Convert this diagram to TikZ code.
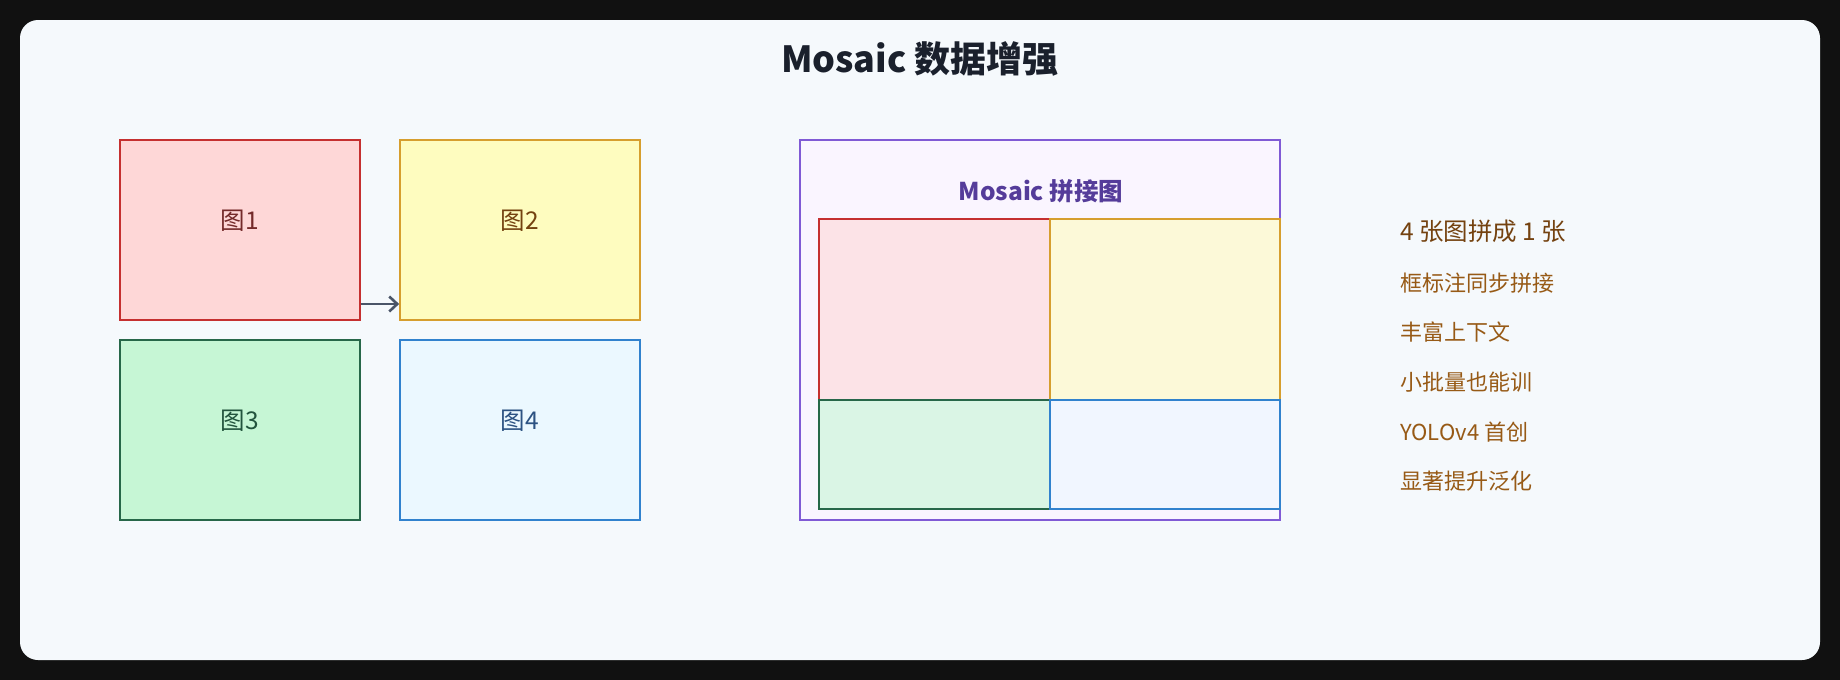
\documentclass[tikz,border=0pt]{standalone}
\usepackage{fontspec}
\setmainfont{Noto Sans CJK SC}
\usetikzlibrary{positioning, arrows.meta, calc}

\definecolor{pageBg}{HTML}{111111}
\definecolor{cardBg}{HTML}{F5F9FC}
\definecolor{titleC}{HTML}{1A202C}
\definecolor{redB}{HTML}{C53030}
\definecolor{redF}{HTML}{FED7D7}
\definecolor{redT}{HTML}{742A2A}
\definecolor{yelB}{HTML}{D69E2E}
\definecolor{yelF}{HTML}{FEFCBF}
\definecolor{yelT}{HTML}{744210}
\definecolor{grnB}{HTML}{276749}
\definecolor{grnF}{HTML}{C6F6D5}
\definecolor{grnT}{HTML}{22543D}
\definecolor{bluB}{HTML}{3182CE}
\definecolor{bluF}{HTML}{EBF8FF}
\definecolor{bluT}{HTML}{2C5282}
\definecolor{purB}{HTML}{805AD5}
\definecolor{purF}{HTML}{FAF5FF}
\definecolor{purT}{HTML}{553C9A}
\definecolor{arrowC}{HTML}{4A5568}
\definecolor{noteA}{HTML}{744210}
\definecolor{noteB}{HTML}{975A16}

\begin{document}
\begin{tikzpicture}[
    x=1pt, y=-1pt,
    >={Straight Barb[length=8pt, width=15pt]}, % arrow tips
    % Styles
    tile/.style={ % source images
        rectangle,
        draw,
        line width=1.7pt,
        minimum width=240pt,
        minimum height=180pt
    },
    tilelabel/.style={ % text in the source images
        font=\fontsize{24.5}{29}\selectfont
    },
    quad/.style={ % pieces inside the mosaic
        rectangle,
        draw,
        line width=1.7pt,
        fill opacity=0.6,
        draw opacity=1
    },
    note/.style={ % right-hand notes
        anchor=west,
        inner sep=0pt,
        text=noteB,
        font=\fontsize{22}{26}\selectfont
    },
    arrow/.style={
        ->,
        line width=2.6pt,
        arrowC
    }
]

    % Page and card
    \fill [pageBg] (0,0) rectangle (1840,680);
    \fill [cardBg, rounded corners=18pt] (20,20) rectangle (1820,660);

    % Title
    \node [text=titleC, font=\fontsize{36}{42}\selectfont\bfseries] (title) at (920,59) {Mosaic 数据增强};

    % Source images
    \node [tile, draw=redB, fill=redF] (img1) at (240,230) {};
    \node [tile, draw=yelB, fill=yelF] (img2) at (520,230) {};
    \node [tile, draw=grnB, fill=grnF] (img3) at (240,430) {};
    \node [tile, draw=bluB, fill=bluF] (img4) at (520,430) {};

    \node [tilelabel, text=redT] (lbl1) at ([yshift=9pt]img1.center) {图1};
    \node [tilelabel, text=yelT] (lbl2) at ([yshift=9pt]img2.center) {图2};
    \node [tilelabel, text=grnT] (lbl3) at ([yshift=9pt]img3.center) {图3};
    \node [tilelabel, text=bluT] (lbl4) at ([yshift=9pt]img4.center) {图4};

    \draw [arrow] ([yshift=-74pt]img1.east) -- ([yshift=-74pt]img2.west);

    % Mosaic result
    \node [rectangle, draw=purB, fill=purF, line width=1.7pt,
           minimum width=480pt, minimum height=380pt] (mosaic) at (1040,330) {};
    \node [text=purT, font=\fontsize{24.5}{29}\selectfont\bfseries] (mtitle) at (1041,191) {Mosaic 拼接图};

    \node [quad, draw=redB, fill=redF, minimum width=231pt, minimum height=181pt] (q1) at (934.5,309.5) {};
    \node [quad, draw=yelB, fill=yelF, minimum width=230pt, minimum height=181pt] (q2) at (1165,309.5) {};
    \node [quad, draw=grnB, fill=grnF, minimum width=231pt, minimum height=109pt] (q3) at (934.5,454.5) {};
    \node [quad, draw=bluB, fill=bluF, minimum width=230pt, minimum height=109pt] (q4) at (1165,454.5) {};

    % Notes
    \node [note, text=noteA, font=\fontsize{24.5}{29}\selectfont] (n1) at (1400,231) {4 张图拼成 1 张};
    \node [note] (n2) at (1400,283) {框标注同步拼接};
    \node [note] (n3) at (1400,332) {丰富上下文};
    \node [note] (n4) at (1400,382) {小批量也能训};
    \node [note] (n5) at (1400,432) {YOLOv4 首创};
    \node [note] (n6) at (1400,481) {显著提升泛化};
\end{tikzpicture}
\end{document}
